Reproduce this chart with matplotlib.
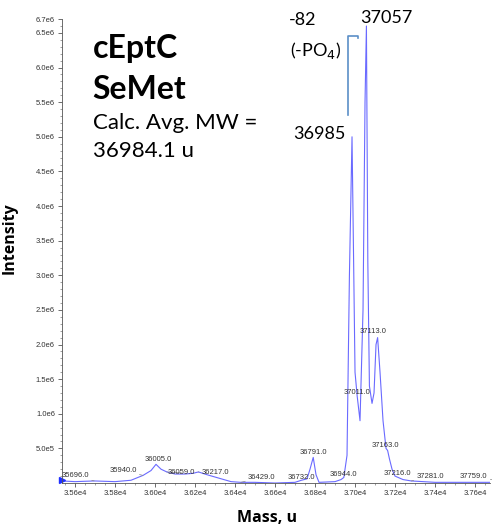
import matplotlib
matplotlib.use('Agg')
import matplotlib.pyplot as plt
import numpy as np

# deconvoluted spectrum
mass = [35535, 35600, 35696, 35800, 35880, 35940, 35980, 36005, 36030, 36059,
        36100, 36150, 36190, 36217, 36260, 36320, 36380, 36429, 36500, 36600,
        36700, 36732, 36760, 36775, 36791, 36805, 36820, 36900, 36930, 36944,
        36960, 36972, 36985, 36993, 37000, 37011, 37025, 37040, 37050, 37057,
        37064, 37072, 37085, 37095, 37105, 37113, 37125, 37140, 37155, 37163,
        37172, 37185, 37200, 37216, 37240, 37281, 37400, 37600, 37759]
intensity = [0.03, 0.02, 0.03, 0.02, 0.04, 0.11, 0.18, 0.27, 0.20, 0.16,
             0.13, 0.13, 0.14, 0.16, 0.12, 0.07, 0.02, 0.01, 0.01, 0.00,
             0.01, 0.04, 0.06, 0.20, 0.37, 0.12, 0.01, 0.02, 0.05, 0.08,
             0.40, 3.00, 5.00, 3.20, 1.60, 1.25, 0.90, 2.50, 5.50, 6.60,
             3.20, 1.40, 1.15, 1.30, 2.00, 2.10, 1.60, 0.90, 0.50, 0.47,
             0.35, 0.20, 0.10, 0.08, 0.05, 0.03, 0.01, 0.01, 0.01]
intensity = [v * 1e6 for v in intensity]

peak_labels = [35696, 35940, 36005, 36059, 36217, 36429, 36732, 36791,
               36944, 37011, 37113, 37163, 37216, 37281, 37759]
# label offsets in pixels (dx, dy); a leader line is drawn when shifted sideways
label_offsets = [(-19, 5), (-20, 5), (2, 5), (15, -1), (17, -1), (21, 5), (0, 3), (0, 5),
                 (0, 3), (0, 4), (-5, 6), (-2, 5), (-1, 4), (19, 4), (-33, 6)]

xticks = [35600, 35800, 36000, 36200, 36400, 36600, 36800, 37000, 37200, 37400, 37600]
xticklabels = ['3.56e4', '3.58e4', '3.60e4', '3.62e4', '3.64e4', '3.66e4',
               '3.68e4', '3.70e4', '3.72e4', '3.74e4', '3.76e4']
yticks = [5e5, 1e6, 1.5e6, 2e6, 2.5e6, 3e6, 3.5e6, 4e6, 4.5e6, 5e6, 5.5e6, 6e6, 6.5e6, 6.7e6]
yticklabels = ['5.0e5', '1.0e6', '1.5e6', '2.0e6', '2.5e6', '3.0e6', '3.5e6', '4.0e6',
               '4.5e6', '5.0e6', '5.5e6', '6.0e6', '6.5e6', '6.7e6']

fig = plt.figure(figsize=(4.92, 5.26), dpi=100, facecolor='w')
ax = fig.add_axes([0.126, 0.0817, 0.87, 0.882])

ax.plot(mass, intensity, color='#6a6aff', linewidth=0.8)
ax.plot(mass[0], intensity[0] + 2e4, '>', color='#2030ff', markersize=4, clip_on=False)

for m, (dx, dy) in zip(peak_labels, label_offsets):
    y = np.interp(m, mass, intensity)
    props = None
    if abs(dx) > 10:
        props = dict(arrowstyle='-', color='#888888', lw=0.5, shrinkA=0, shrinkB=0)
    ax.annotate('%.1f' % m, xy=(m, y), xytext=(dx, dy), textcoords='offset pixels',
                ha='center', va='center', fontsize=5.5, color='#333333',
                family='Liberation Sans', arrowprops=props, annotation_clip=False)

ax.set_xlim(35535, 37675)
ax.set_ylim(0, 6.7e6)
ax.set_xticks(xticks)
ax.set_xticklabels(xticklabels)
ax.set_yticks(yticks)
ax.set_yticklabels(yticklabels)
ax.set_xticks(np.arange(35550, 37675, 50), minor=True)
ax.set_yticks(np.arange(1e5, 6.7e6, 1e5), minor=True)
ax.tick_params(axis='both', which='major', labelsize=5.5, labelcolor='#333333',
               color='#555555', length=3, width=0.6, pad=2)
ax.tick_params(axis='both', which='minor', color='#777777', length=1.5, width=0.5)
for lab in ax.get_xticklabels() + ax.get_yticklabels():
    lab.set_family('Liberation Sans')

ax.spines['top'].set_visible(False)
ax.spines['right'].set_visible(False)
ax.spines['left'].set_color('#555555')
ax.spines['bottom'].set_color('#555555')
ax.spines['left'].set_linewidth(0.6)
ax.spines['bottom'].set_linewidth(0.6)

ax.set_xlabel('Mass, u', fontsize=11.5, fontweight='bold', family='Open Sans')
ax.xaxis.set_label_coords(0.479, -0.058)
ax.set_ylabel('Intensity', fontsize=11.5, fontweight='bold', family='Open Sans')
ax.yaxis.set_label_coords(-0.103, 0.528)

# bracket for the -82 shift
ax.plot([36963, 36963, 37015, 37015], [5.31e6, 6.46e6, 6.46e6, 6.42e6],
        color='#5b8fc7', linewidth=1.2, clip_on=False)

ax.text(0.072, 0.916, 'cEptC', transform=ax.transAxes, fontsize=23,
        fontweight='bold', family='Lato', va='baseline')
ax.text(0.072, 0.828, 'SeMet', transform=ax.transAxes, fontsize=23,
        fontweight='bold', family='Lato', va='baseline')
ax.text(0.072, 0.763, 'Calc. Avg. MW =', transform=ax.transAxes, fontsize=16,
        family='Lato', va='baseline')
ax.text(0.072, 0.703, '36984.1 u', transform=ax.transAxes, fontsize=16,
        family='Lato', va='baseline')

ax.text(36740, 6.68e6, '-82', fontsize=13, family='Lato', ha='center', va='center')
ax.text(36805, 6.25e6, '(-PO$_4$)', fontsize=13, family='Lato', ha='center', va='center')
ax.text(37157, 6.72e6, '37057', fontsize=13, family='Lato', ha='center', va='center')
ax.text(36820, 5.04e6, '36985', fontsize=13, family='Lato', ha='center', va='center')

fig.savefig('out.png', dpi=100)
